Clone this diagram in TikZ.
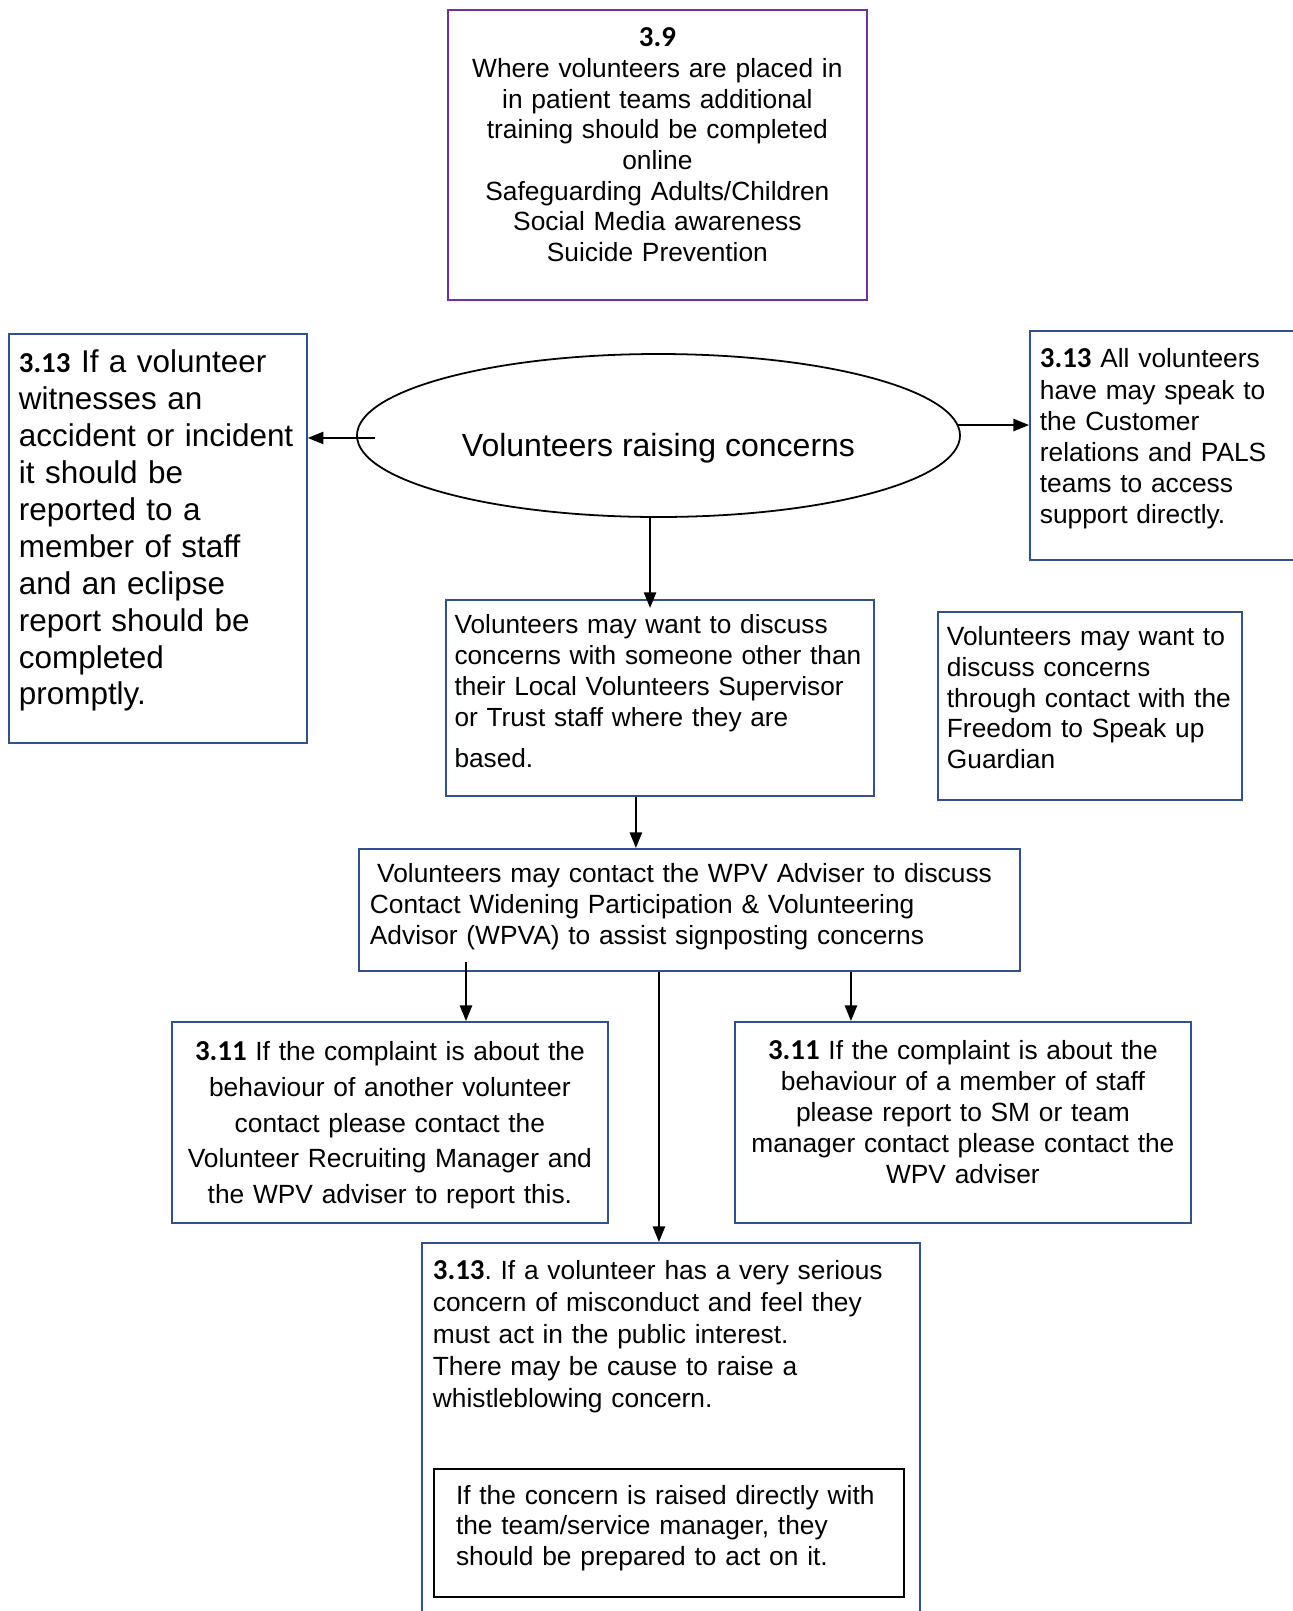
\documentclass[tikz,border=0pt]{standalone}
\usepackage{fontspec}
\setmainfont{Liberation Sans}
\newfontfamily\numfont{Carlito}
\usetikzlibrary{arrows.meta,shapes.geometric}
\definecolor{boxblue}{RGB}{47,82,143}
\definecolor{boxpurple}{RGB}{112,48,160}
\newcommand{\clausenum}[1]{{\numfont\bfseries\fontsize{13}{15}\selectfont #1}}
\frenchspacing

\begin{document}
\begin{tikzpicture}[x=0.45pt,y=-0.45pt,
		box/.style={draw=boxblue, line width=0.8pt, anchor=north west, inner ysep=0pt, inner xsep=4.5pt, align=left},
		link/.style={line width=0.75pt, -{Triangle[length=7pt,width=5.5pt]}}]
		\useasboundingbox (0,0) rectangle (1293,1611);
		% top box and the ellipse
		\node [box, draw=boxpurple, align=center, text width=179.55pt, text height=16.65pt, text depth=113.85pt, font=\fontsize{11.85}{13.8}\selectfont] (training) at (447,9) {\clausenum{3.9}\\Where volunteers are placed in\\in patient teams additional\\training should be completed\\online\\Safeguarding Adults/Children\\Social Media awareness\\Suicide Prevention};
		\node [draw, ellipse, line width=0.8pt, inner sep=0pt, minimum width=271.35pt, minimum height=73.35pt, text height=21.5pt, text depth=3pt, font=\fontsize{14.4}{16}\selectfont] (concern) at (658.5,435.5) {Volunteers raising concerns};
		\node [box, text width=125.1pt, text height=17.55pt, text depth=166.5pt, font=\fontsize{14.15}{16.6}\selectfont] (witness) at (8,333) {\clausenum{3.13} If a volunteer\\witnesses an\\accident or incident\\it should be\\reported to a\\member of staff\\and an eclipse\\report should be\\completed\\promptly.};
		\node [box, text width=112.05pt, text height=16.6pt, text depth=86.45pt, font=\fontsize{11.85}{14.05}\selectfont] (pals) at (1029,330) {\clausenum{3.13} All volunteers\\have may speak to\\the Customer\\relations and PALS\\teams to access\\support directly.};
		% middle row
		\node [box, inner xsep=3.9pt, text width=184.8pt, text height=15.3pt, text depth=72.9pt, font=\fontsize{11.8}{13.9}\selectfont] (discuss) at (445,599) {Volunteers may want to discuss\\concerns with someone other than\\their Local Volunteers Supervisor\\or Trust staff where they are\\[4.6pt]based.};
		\node [box, inner xsep=4.05pt, text width=128.7pt, text height=15.3pt, text depth=69.3pt, font=\fontsize{11.85}{13.75}\selectfont] (speakup) at (937,611) {Volunteers may want to\\discuss concerns\\through contact with the\\Freedom to Speak up\\Guardian};
		\node [box, inner xsep=4.95pt, text width=287.55pt, text height=15.3pt, text depth=39.6pt, font=\fontsize{11.85}{13.9}\selectfont] (adviser) at (358,848) {\hspace*{3.3pt}Volunteers may contact the WPV Adviser to discuss\\Contact Widening Participation \& Volunteering\\Advisor (WPVA) to assist signposting concerns};
		% complaint boxes
		\node [box, align=center, text width=187.2pt, text height=17.45pt, text depth=73pt, font=\fontsize{11.85}{16.07}\selectfont] (peer) at (171,1021) {\clausenum{3.11} If the complaint is about the\\behaviour of another volunteer\\contact please contact the\\Volunteer Recruiting Manager and\\the WPV adviser to report this.};
		\node [box, align=center, text width=196.2pt, text height=17pt, text depth=73.45pt, font=\fontsize{11.85}{13.9}\selectfont] (staff) at (734,1021) {\clausenum{3.11} If the complaint is about the\\behaviour of a member of staff\\please report to SM or team\\manager contact please contact the\\WPV adviser};
		\node [box, inner xsep=4.95pt, text width=214.2pt, text height=16.65pt, text depth=157.95pt, font=\fontsize{11.85}{14.35}\selectfont] (serious) at (421,1242) {\clausenum{3.13}. If a volunteer has a very serious\\concern of misconduct and feel they\\must act in the public interest.\\There may be cause to raise a\\whistleblowing concern.};
		\node [box, draw=black, line width=0.9pt, inner xsep=9.9pt, text width=191.7pt, text height=15.75pt, text depth=41.85pt, font=\fontsize{11.85}{13.9}\selectfont] (direct) at (433,1468) {If the concern is raised directly with\\the team/service manager, they\\should be prepared to act on it.};
		% connectors
		\coordinate (lstart) at ([xshift=8.6pt,yshift=-1.1pt]concern.west);
		\coordinate (rstart) at (concern.2.5);
		\coordinate (dstart) at ([xshift=-3.8pt]concern.south);
		\draw [link] (lstart) -- (lstart -| witness.east);
		\draw [link] (rstart) -- (rstart -| pals.west);
		\draw [link, shorten >=-4pt] (dstart) -- (dstart |- discuss.north);
		\coordinate (bstart) at ([xshift=-10.8pt]discuss.south);
		\draw [link] (bstart) -- (bstart |- adviser.north);
		\coordinate (fa) at ([xshift=48.6pt,yshift=4.5pt]adviser.south west);
		\coordinate (fb) at ([xshift=-13.7pt]adviser.south);
		\coordinate (fc) at ([xshift=72.7pt]adviser.south);
		\draw [link] (fa) -- (fa |- peer.north);
		\draw [link] (fb) -- (fb |- serious.north);
		\draw [link] (fc) -- (fc |- staff.north);
	\end{tikzpicture}
\end{document}
